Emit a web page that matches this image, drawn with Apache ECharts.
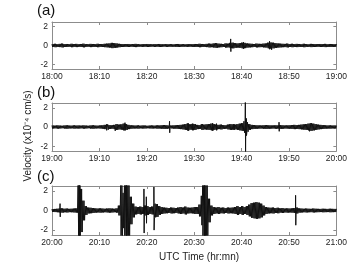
<!DOCTYPE html>
<html><head><meta charset="utf-8">
<script src="https://cdn.jsdelivr.net/npm/echarts@6/dist/echarts.min.js"></script>
<style>html,body{margin:0;padding:0;background:#fff}#c{width:350px;height:263px}</style>
</head><body><div id="c"></div>
<script>
// ---- data (minutes after the hour, amplitudes in x10^-4 cm/s) ----
var panelLabels = ['(a)', '(b)', '(c)'];
var xTickLabelsA = ['18:00','18:10','18:20','18:30','18:40','18:50','19:00'];
var xTickLabelsB = ['19:00','19:10','19:20','19:30','19:40','19:50','20:00'];
var xTickLabelsC = ['20:00','20:10','20:20','20:30','20:40','20:50','21:00'];
var yTicks = [-2, 0, 2];
var sampleStep = 0.5; // minutes between envelope samples

// envelope amplitude of the trace, one value every 0.5 min from 0 to 60
var envA = [0.15,0.18,0.14,0.17,0.2,0.15,0.16,0.13,0.18,0.15,0.17,0.14,0.16,0.19,0.15,0.13,0.17,0.16,0.14,0.18,0.15,
  0.16,0.18,0.2,0.22,0.28,0.25,0.22,0.18,0.16,0.15,0.14,0.16,0.13,0.15,0.17,0.14,0.12,0.15,0.13,0.16,
  0.14,0.12,0.15,0.13,0.16,0.14,0.12,0.15,0.13,0.14,0.12,0.15,0.16,0.13,0.14,0.12,0.15,0.13,0.14,0.16,
  0.15,0.18,0.16,0.14,0.17,0.2,0.18,0.22,0.25,0.2,0.18,0.16,0.22,0.2,0.28,0.3,0.25,0.22,0.25,0.3,
  0.28,0.22,0.2,0.18,0.16,0.2,0.18,0.17,0.2,0.22,0.3,0.32,0.3,0.25,0.22,0.2,0.18,0.17,0.2,0.16,
  0.18,0.15,0.17,0.16,0.14,0.18,0.15,0.13,0.17,0.16,0.15,0.14,0.16,0.15,0.17,0.14,0.16,0.15,0.14,0.16];
var envB = [0.16,0.14,0.17,0.15,0.13,0.16,0.18,0.15,0.14,0.17,0.15,0.16,0.14,0.17,0.15,0.13,0.16,0.18,0.15,0.14,0.16,
  0.18,0.22,0.28,0.2,0.18,0.22,0.3,0.25,0.28,0.35,0.3,0.22,0.18,0.16,0.15,0.17,0.14,0.16,0.15,0.13,
  0.15,0.16,0.14,0.17,0.16,0.18,0.2,0.18,0.16,0.15,0.17,0.18,0.2,0.22,0.25,0.3,0.35,0.28,0.32,0.3,
  0.22,0.2,0.3,0.25,0.28,0.3,0.35,0.3,0.25,0.22,0.25,0.2,0.18,0.25,0.3,0.28,0.25,0.3,0.35,0.4,
  0.6,0.5,0.3,0.22,0.2,0.18,0.17,0.16,0.18,0.2,0.18,0.17,0.16,0.18,0.17,0.2,0.18,0.16,0.17,0.18,
  0.2,0.22,0.2,0.22,0.25,0.28,0.3,0.35,0.4,0.35,0.3,0.25,0.22,0.2,0.18,0.16,0.17,0.15,0.16,0.15];
var envC = [0.15,0.16,0.18,0.2,0.22,0.18,0.2,0.17,0.18,0.2,0.22,2.8,2.2,1.0,0.45,0.3,0.28,0.25,0.22,0.2,0.22,
  0.2,0.18,0.2,0.22,0.2,0.18,0.22,0.5,2.8,1.8,2.8,2.8,1.4,0.7,0.4,0.35,0.4,0.35,0.5,0.45,
  0.35,0.4,0.7,0.65,0.45,0.35,0.3,0.28,0.25,0.3,0.28,0.25,0.3,0.35,0.3,0.4,0.3,0.28,0.3,0.35,
  0.35,0.6,1.5,2.8,2.6,1.2,0.5,0.35,0.3,0.35,0.28,0.3,0.25,0.3,0.28,0.3,0.35,0.45,0.35,0.45,
  0.35,0.45,0.6,0.75,0.8,0.85,0.8,0.7,0.5,0.35,0.3,0.28,0.3,0.25,0.28,0.22,0.25,0.2,0.22,0.2,
  0.22,0.25,0.3,0.22,0.2,0.18,0.2,0.18,0.17,0.2,0.18,0.17,0.16,0.18,0.17,0.16,0.18,0.17,0.16,0.17];

// isolated spikes: time (min), upward peak, downward peak
var spikeTimeA = [12.6, 37.7, 40.1, 40.4, 45.9, 46.3, 46.6];
var spikeUpA   = [0.3, 0.7, 0.45, 0.35, 0.45, 0.5, 0.35];
var spikeDnA   = [0.3, 0.65, 0.5, 0.35, 0.4, 0.45, 0.35];
var spikeTimeB = [11.5, 13.3, 15.4, 24.8, 28.7, 29.7, 33.9, 34.7, 38.4, 40.6, 40.8, 41.0, 47.9, 54.3];
var spikeUpB   = [0.35, 0.4, 0.45, 0.6, 0.4, 0.35, 0.4, 0.35, 0.3, 0.8, 3.5, 0.9, 0.5, 0.45];
var spikeDnB   = [0.35, 0.4, 0.35, 0.6, 0.4, 0.35, 0.4, 0.35, 0.3, 0.8, 3.5, 0.9, 0.45, 0.45];
var spikeTimeC = [1.7, 5.7, 5.9, 14.5, 15.3, 15.7, 19.4, 19.9, 21.5, 31.8, 32.2, 51.4];
var spikeUpC   = [0.7, 3.5, 3.5, 3.5, 3.5, 3.5, 2.2, 1.4, 2.4, 3.5, 3.5, 1.55];
var spikeDnC   = [0.65, 3.5, 3.5, 3.5, 3.5, 3.5, 2.3, 1.3, 2.0, 3.5, 3.5, 1.5];

// ---- build trace points (zig-zag between +amp and -amp, 4 swings per sample) ----
var swings = 4;
function buildTrace(env, st, su, sd) {
  var pts = [];
  for (var i = 0; i < env.length; i++) {
    var t = i * sampleStep;
    for (var s = 0; s < swings; s++) {
      var ts = t + s * sampleStep / swings;
      if (ts > 60) break;
      pts.push([ts, (s % 2 === 0 ? 1 : -1) * env[i]]);
    }
  }
  for (var j = 0; j < st.length; j++) {
    pts.push([st[j], su[j]]);
    pts.push([st[j] + 0.04, -sd[j]]);
  }
  pts.sort(function (a, b) { return a[0] - b[0]; });
  return pts;
}
var traces = [
  buildTrace(envA, spikeTimeA, spikeUpA, spikeDnA),
  buildTrace(envB, spikeTimeB, spikeUpB, spikeDnB),
  buildTrace(envC, spikeTimeC, spikeUpC, spikeDnC)
];
var tickLabelSets = [xTickLabelsA, xTickLabelsB, xTickLabelsC];

// ---- layout ----
var FONT = 'Liberation Sans';
var gridTops = [22, 103, 186];
var gridHeights = [47, 48, 49];
var borderColor = '#8c8c8c';
var grids = [], xAxes = [], yAxes = [], series = [];
for (var k = 0; k < 3; k++) {
  grids.push({left: 52, right: 13, top: gridTops[k], height: gridHeights[k], show: false, containLabel: false});
  (function (labels) {
    xAxes.push({
      gridIndex: k, type: 'value', min: 0, max: 60, interval: 10, position: 'bottom',
      axisLine: {show: true, onZero: false, lineStyle: {color: borderColor, width: 1}},
      axisTick: {show: true, inside: true, length: 3, lineStyle: {color: borderColor}},
      axisLabel: {show: true, margin: 3, fontSize: 8.5, fontFamily: FONT, color: '#222',
        formatter: function (v) { return labels[Math.round(v / 10)]; }},
      splitLine: {show: false}
    });
  })(tickLabelSets[k]);
  xAxes.push({
    gridIndex: k, type: 'value', min: 0, max: 60, interval: 10, position: 'top',
    axisLine: {show: true, onZero: false, lineStyle: {color: borderColor, width: 1}},
    axisTick: {show: true, inside: true, length: 3, lineStyle: {color: borderColor}},
    axisLabel: {show: false}, splitLine: {show: false}
  });
  yAxes.push({
    gridIndex: k, type: 'value', min: -2.5, max: 2.5, position: 'left',
    axisLine: {show: true, onZero: false, lineStyle: {color: borderColor, width: 1}},
    axisTick: {show: true, inside: true, length: 3, customValues: yTicks, lineStyle: {color: borderColor}},
    axisLabel: {show: true, margin: 4, fontSize: 8.5, fontFamily: FONT, color: '#222', customValues: yTicks},
    splitLine: {show: false}
  });
  yAxes.push({
    gridIndex: k, type: 'value', min: -2.5, max: 2.5, position: 'right',
    axisLine: {show: true, onZero: false, lineStyle: {color: borderColor, width: 1}},
    axisTick: {show: true, inside: true, length: 3, customValues: yTicks, lineStyle: {color: borderColor}},
    axisLabel: {show: false}, splitLine: {show: false}
  });
  series.push({
    type: 'line', xAxisIndex: 2 * k, yAxisIndex: 2 * k, data: traces[k],
    showSymbol: false, symbol: 'none', sampling: null, clip: true, silent: true,
    lineStyle: {color: '#111', width: 1}, z: 1
  });
}

var chart = echarts.init(document.getElementById('c'), null, {renderer: 'canvas'});
chart.setOption({
  animation: false,
  backgroundColor: '#fff',
  grid: grids, xAxis: xAxes, yAxis: yAxes, series: series,
  graphic: [
    {type: 'text', x: 37, y: 11, style: {text: panelLabels[0], font: '15px ' + FONT, fill: '#111', verticalAlign: 'middle'}},
    {type: 'text', x: 37, y: 93, style: {text: panelLabels[1], font: '15px ' + FONT, fill: '#111', verticalAlign: 'middle'}},
    {type: 'text', x: 37, y: 177, style: {text: panelLabels[2], font: '15px ' + FONT, fill: '#111', verticalAlign: 'middle'}},
    {type: 'text', x: 28, y: 136, rotation: Math.PI / 2,
      style: {text: 'Velocity (x10\u207B\u2074 cm/s)', font: '10px ' + FONT, fill: '#222', align: 'center', verticalAlign: 'middle'}},
    {type: 'text', x: 199, y: 257,
      style: {text: 'UTC Time (hr:mn)', font: '10px ' + FONT, fill: '#222', align: 'center', verticalAlign: 'middle'}}
  ]
});
</script></body></html>
